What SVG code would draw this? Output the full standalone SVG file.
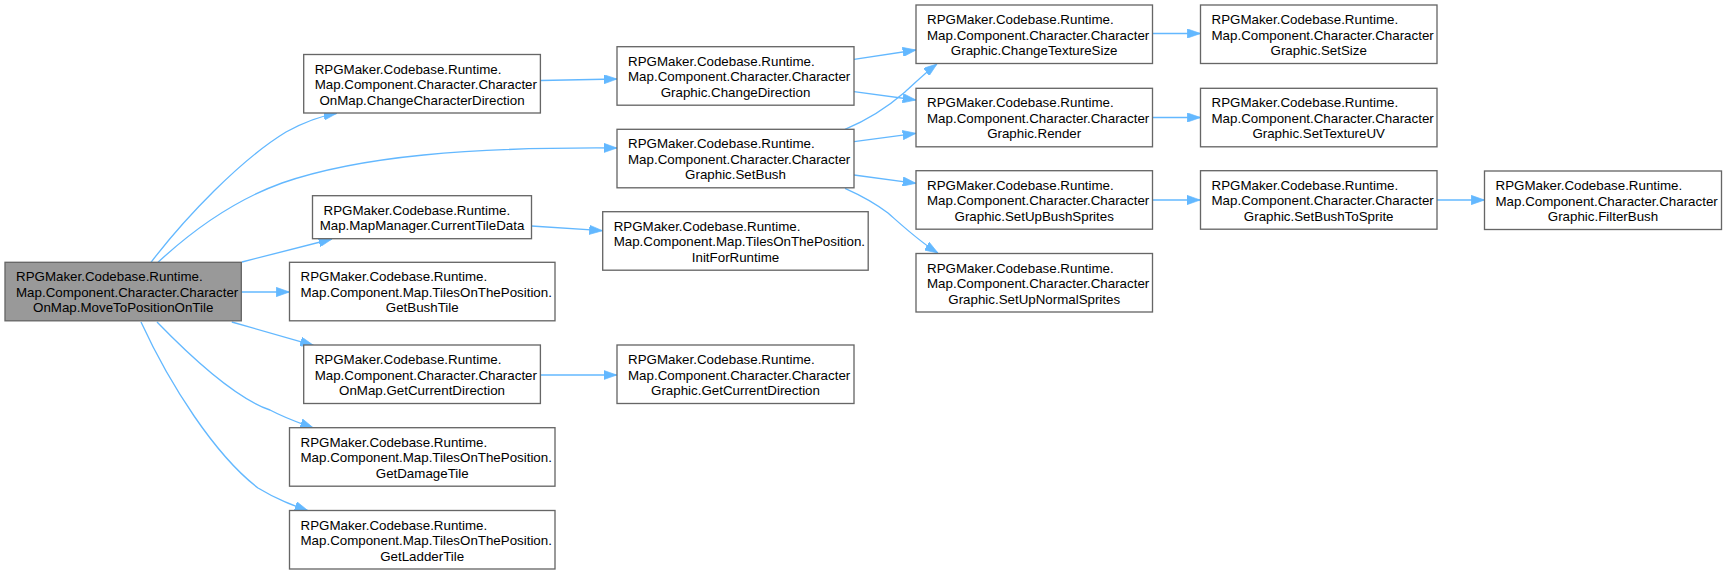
<svg xmlns="http://www.w3.org/2000/svg" width="1727" height="575" viewBox="0 0 1727 575">
<style>
.n rect{fill:#ffffff;stroke:#666666;stroke-width:1.33}
#main rect{fill:#999999}
text{font-family:"Liberation Sans",Arial,sans-serif;font-size:13.33px;fill:#000000}
.l{text-anchor:start}
.c{text-anchor:middle}
.e path{fill:none;stroke:#63b8ff;stroke-width:1.33;marker-end:url(#ah)}
</style>
<defs>
<marker id="ah" viewBox="0 0 10 7" refX="10" refY="3.5" markerWidth="10" markerHeight="7" orient="auto" markerUnits="strokeWidth">
<path d="M0,0 L10,3.5 L0,7 z" fill="#63b8ff" stroke="#63b8ff" stroke-width="0.5"/>
</marker>
</defs>
<rect width="1727" height="575" fill="#ffffff"/>
<g id="connectors" class="e">
<path d="M151,262.3 C185,218 240,160 286,132 C304,122 320,116 337,113.3"/>
<path d="M158,262.3 C195,228 235,200 282,183 C360,156 470,147 617,148"/>
<path d="M242,262 L332,239"/>
<path d="M241.5,292 L289.5,292"/>
<path d="M231.8,322 L313.5,345.3"/>
<path d="M157,322 C190,356 235,398 270,410 C287,419 300,423 313.5,428"/>
<path d="M141,322 C170,385 215,455 258,488 C278,500 292,505 308,510.7"/>
<path d="M540.4,80.5 L617,79"/>
<path d="M531.4,226 L602.6,230.7"/>
<path d="M540.6,375 L616.8,375"/>
<path d="M854,59.3 L916,50"/>
<path d="M854,91.7 L916,100"/>
<path d="M845,129.3 C870,119 890,105 905,92 C915,83 925,73 937,64"/>
<path d="M854,141.7 L916,133.3"/>
<path d="M854,175 L916,183.3"/>
<path d="M845,188.3 C860,195 875,203 888,213 C905,228 920,242 938,253"/>
<path d="M1152.5,33.5 L1200.5,33.5"/>
<path d="M1152.5,117.5 L1200.5,117.5"/>
<path d="M1152.7,200 L1200.3,200"/>
<path d="M1436.8,200 L1484.5,200"/>
</g>
<g id="main" class="n"><rect x="5" y="262.3" width="236.3" height="58.5"/><text class="l" x="16" y="281.3">RPGMaker.Codebase.Runtime.</text><text class="l" x="16" y="296.8">Map.Component.Character.Character</text><text class="c" x="123.2" y="312.3">OnMap.MoveToPositionOnTile</text></g>
<g id="n_changecharacterdirection" class="n"><rect x="303.7" y="54.5" width="236.7" height="58.5"/><text class="l" x="314.7" y="73.5">RPGMaker.Codebase.Runtime.</text><text class="l" x="314.7" y="89">Map.Component.Character.Character</text><text class="c" x="422" y="104.5">OnMap.ChangeCharacterDirection</text></g>
<g id="n_currenttiledata" class="n"><rect x="312.5" y="195.7" width="219" height="43"/><text class="l" x="323.5" y="214.7">RPGMaker.Codebase.Runtime.</text><text class="c" x="422" y="230.2">Map.MapManager.CurrentTileData</text></g>
<g id="n_getbushtile" class="n"><rect x="289.5" y="262.3" width="265.5" height="58.5"/><text class="l" x="300.5" y="281.3">RPGMaker.Codebase.Runtime.</text><text class="l" x="300.5" y="296.8">Map.Component.Map.TilesOnThePosition.</text><text class="c" x="422.2" y="312.3">GetBushTile</text></g>
<g id="n_onmap_getcurrentdirection" class="n"><rect x="303.7" y="345" width="236.7" height="58.5"/><text class="l" x="314.7" y="364">RPGMaker.Codebase.Runtime.</text><text class="l" x="314.7" y="379.5">Map.Component.Character.Character</text><text class="c" x="422" y="395">OnMap.GetCurrentDirection</text></g>
<g id="n_getdamagetile" class="n"><rect x="289.5" y="427.7" width="265.5" height="58.5"/><text class="l" x="300.5" y="446.7">RPGMaker.Codebase.Runtime.</text><text class="l" x="300.5" y="462.2">Map.Component.Map.TilesOnThePosition.</text><text class="c" x="422.2" y="477.7">GetDamageTile</text></g>
<g id="n_getladdertile" class="n"><rect x="289.5" y="510.5" width="265.5" height="58.5"/><text class="l" x="300.5" y="529.5">RPGMaker.Codebase.Runtime.</text><text class="l" x="300.5" y="545">Map.Component.Map.TilesOnThePosition.</text><text class="c" x="422.2" y="560.5">GetLadderTile</text></g>
<g id="n_changedirection" class="n"><rect x="617" y="46.7" width="237" height="58.5"/><text class="l" x="628" y="65.7">RPGMaker.Codebase.Runtime.</text><text class="l" x="628" y="81.2">Map.Component.Character.Character</text><text class="c" x="735.5" y="96.7">Graphic.ChangeDirection</text></g>
<g id="n_setbush" class="n"><rect x="617" y="129.3" width="237" height="58.5"/><text class="l" x="628" y="148.3">RPGMaker.Codebase.Runtime.</text><text class="l" x="628" y="163.8">Map.Component.Character.Character</text><text class="c" x="735.5" y="179.3">Graphic.SetBush</text></g>
<g id="n_initforruntime" class="n"><rect x="602.7" y="211.7" width="265.5" height="58.5"/><text class="l" x="613.7" y="230.7">RPGMaker.Codebase.Runtime.</text><text class="l" x="613.7" y="246.2">Map.Component.Map.TilesOnThePosition.</text><text class="c" x="735.5" y="261.7">InitForRuntime</text></g>
<g id="n_graphic_getcurrentdirection" class="n"><rect x="617" y="345" width="237" height="58.5"/><text class="l" x="628" y="364">RPGMaker.Codebase.Runtime.</text><text class="l" x="628" y="379.5">Map.Component.Character.Character</text><text class="c" x="735.5" y="395">Graphic.GetCurrentDirection</text></g>
<g id="n_changetexturesize" class="n"><rect x="916" y="5" width="236.5" height="58.5"/><text class="l" x="927" y="24">RPGMaker.Codebase.Runtime.</text><text class="l" x="927" y="39.5">Map.Component.Character.Character</text><text class="c" x="1034.2" y="55">Graphic.ChangeTextureSize</text></g>
<g id="n_render" class="n"><rect x="916" y="88.3" width="236.5" height="58.5"/><text class="l" x="927" y="107.3">RPGMaker.Codebase.Runtime.</text><text class="l" x="927" y="122.8">Map.Component.Character.Character</text><text class="c" x="1034.2" y="138.3">Graphic.Render</text></g>
<g id="n_setupbushsprites" class="n"><rect x="916" y="170.7" width="236.5" height="58.5"/><text class="l" x="927" y="189.7">RPGMaker.Codebase.Runtime.</text><text class="l" x="927" y="205.2">Map.Component.Character.Character</text><text class="c" x="1034.2" y="220.7">Graphic.SetUpBushSprites</text></g>
<g id="n_setupnormalsprites" class="n"><rect x="916" y="253.5" width="236.5" height="58.5"/><text class="l" x="927" y="272.5">RPGMaker.Codebase.Runtime.</text><text class="l" x="927" y="288">Map.Component.Character.Character</text><text class="c" x="1034.2" y="303.5">Graphic.SetUpNormalSprites</text></g>
<g id="n_setsize" class="n"><rect x="1200.5" y="5" width="236.5" height="58.5"/><text class="l" x="1211.5" y="24">RPGMaker.Codebase.Runtime.</text><text class="l" x="1211.5" y="39.5">Map.Component.Character.Character</text><text class="c" x="1318.7" y="55">Graphic.SetSize</text></g>
<g id="n_settextureuv" class="n"><rect x="1200.5" y="88.3" width="236.5" height="58.5"/><text class="l" x="1211.5" y="107.3">RPGMaker.Codebase.Runtime.</text><text class="l" x="1211.5" y="122.8">Map.Component.Character.Character</text><text class="c" x="1318.7" y="138.3">Graphic.SetTextureUV</text></g>
<g id="n_setbushtosprite" class="n"><rect x="1200.5" y="170.7" width="236.5" height="58.5"/><text class="l" x="1211.5" y="189.7">RPGMaker.Codebase.Runtime.</text><text class="l" x="1211.5" y="205.2">Map.Component.Character.Character</text><text class="c" x="1318.7" y="220.7">Graphic.SetBushToSprite</text></g>
<g id="n_filterbush" class="n"><rect x="1484.5" y="171" width="237" height="58.5"/><text class="l" x="1495.5" y="190">RPGMaker.Codebase.Runtime.</text><text class="l" x="1495.5" y="205.5">Map.Component.Character.Character</text><text class="c" x="1603" y="221">Graphic.FilterBush</text></g>
</svg>
